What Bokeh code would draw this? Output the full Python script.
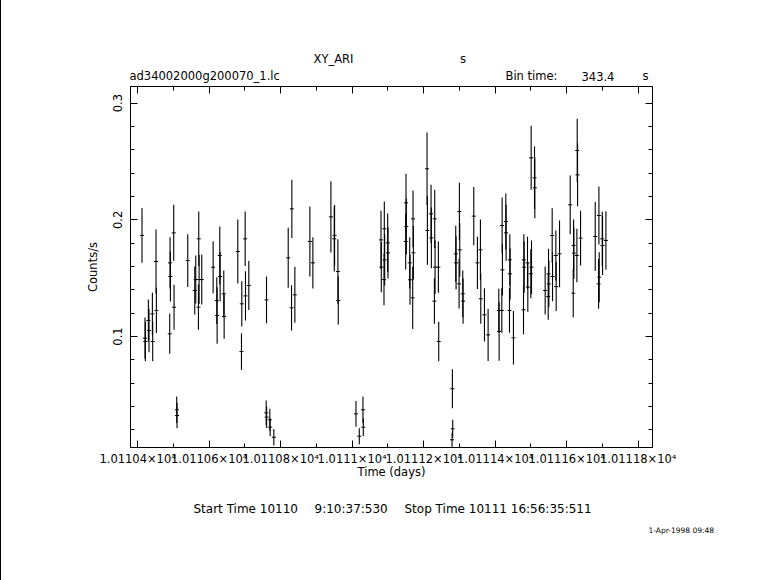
from bokeh.plotting import figure
from bokeh.models import LinearAxis, FixedTicker, ColumnDataSource, Range1d
from bokeh.layouts import column
from bokeh.core.properties import value
from bokeh.embed import file_html
from bokeh.resources import INLINE

# ---------------- data ----------------
time_days = [
    10110.4122, 10110.4206, 10110.4216, 10110.4300, 10110.4318, 10110.4412, 10110.4421, 10110.4514,
    10110.4524, 10110.4897, 10110.4906, 10110.4916, 10110.5009, 10110.5018, 10110.5093, 10110.5102,
    10110.5401, 10110.5597, 10110.5625, 10110.5700, 10110.5709, 10110.5719, 10110.5793, 10110.6111,
    10110.6213, 10110.6223, 10110.6297, 10110.6307, 10110.6409, 10110.6419, 10110.6801, 10110.6904,
    10110.6913, 10110.7007, 10110.7016, 10110.7109, 10110.7595, 10110.7604, 10110.7608, 10110.7697,
    10110.7706, 10110.7809, 10110.8211, 10110.8304, 10110.8313, 10110.8397, 10110.8817, 10110.8901,
    10110.9405, 10110.9499, 10110.9508, 10110.9601, 10110.9611, 10111.0106, 10111.0199, 10111.0302,
    10111.0311, 10111.0806, 10111.0815, 10111.0890, 10111.0899, 10111.0909, 10111.0993, 10111.1002,
    10111.1497, 10111.1506, 10111.1515, 10111.1609, 10111.1618, 10111.1693, 10111.1702, 10111.1712,
    10111.2094, 10111.2104, 10111.2206, 10111.2215, 10111.2300, 10111.2309, 10111.2318, 10111.2411,
    10111.2421, 10111.2794, 10111.2803, 10111.2812, 10111.2897, 10111.2906, 10111.2990, 10111.2999,
    10111.3009, 10111.3093, 10111.3102, 10111.3401, 10111.3503, 10111.3587, 10111.3597, 10111.3700,
    10111.3802, 10111.4101, 10111.4110, 10111.4185, 10111.4194, 10111.4203, 10111.4297, 10111.4306,
    10111.4400, 10111.4409, 10111.4418, 10111.4511, 10111.4792, 10111.4801, 10111.4810, 10111.4904,
    10111.4913, 10111.4997, 10111.5006, 10111.5016, 10111.5100, 10111.5109, 10111.5398, 10111.5483,
    10111.5492, 10111.5501, 10111.5594, 10111.5604, 10111.5697, 10111.5706, 10111.5800, 10111.6098,
    10111.6183, 10111.6192, 10111.6201, 10111.6285, 10111.6294, 10111.6304, 10111.6388, 10111.6798,
    10111.6892, 10111.6901, 10111.6910, 10111.6994, 10111.7003, 10111.7097,
]
rate = [
    0.1866, 0.0986, 0.0957, 0.1137, 0.1051, 0.1194, 0.0957, 0.1643,
    0.1223, 0.1023, 0.1631, 0.1514, 0.1888, 0.1251, 0.0372, 0.0323,
    0.1651, 0.1394, 0.1488, 0.1251, 0.1837, 0.1488, 0.1488, 0.1594,
    0.1308, 0.1180, 0.1694, 0.1514, 0.1366, 0.1171, 0.1728, 0.0871,
    0.1280, 0.1837, 0.1348, 0.1437, 0.0346, 0.1314, 0.0309, 0.0286,
    0.0223, 0.0137, 0.1674, 0.1246, 0.2094, 0.1357, 0.1814, 0.1631,
    0.2025, 0.1837, 0.1866, 0.1557, 0.1308, 0.0337, 0.0146, 0.0372,
    0.0223, 0.1828, 0.1594, 0.1488, 0.1923, 0.1657, 0.1803, 0.1717,
    0.1814, 0.2145, 0.1943, 0.1631, 0.1486, 0.1331, 0.2008, 0.1717,
    0.2437, 0.1908, 0.2051, 0.1845, 0.1303, 0.2008, 0.1594, 0.1594,
    0.0957, 0.0115, 0.0552, 0.0209, 0.1708, 0.1631, 0.1451, 0.2071,
    0.1743, 0.1366, 0.1303, 0.2031, 0.1631, 0.1743, 0.1323, 0.1186,
    0.1014, 0.1223, 0.1043, 0.1223, 0.1951, 0.1571, 0.1985, 0.1888,
    0.1223, 0.1657, 0.1537, 0.0989, 0.1229, 0.1657, 0.1594, 0.1631,
    0.1423, 0.1537, 0.2531, 0.1594, 0.2360, 0.2274, 0.1394, 0.1343,
    0.1537, 0.1451, 0.1865, 0.1514, 0.1694, 0.1428, 0.1708, 0.2128,
    0.1371, 0.1780, 0.1714, 0.1694, 0.2594, 0.2385, 0.1843, 0.1857,
    0.1451, 0.2037, 0.1508, 0.1837, 0.1780, 0.1823,
]
rate_err = [
    0.0234, 0.0177, 0.0170, 0.0180, 0.0186, 0.0180, 0.0169, 0.0274,
    0.0194, 0.0171, 0.0220, 0.0214, 0.0240, 0.0193, 0.0114, 0.0110,
    0.0226, 0.0206, 0.0206, 0.0194, 0.0234, 0.0210, 0.0214, 0.0223,
    0.0200, 0.0243, 0.0248, 0.0211, 0.0200, 0.0191, 0.0274, 0.0157,
    0.0194, 0.0234, 0.0211, 0.0209, 0.0106, 0.0200, 0.0092, 0.0094,
    0.0077, 0.0071, 0.0257, 0.0194, 0.0249, 0.0240, 0.0300, 0.0220,
    0.0306, 0.0280, 0.0260, 0.0277, 0.0206, 0.0110, 0.0069, 0.0114,
    0.0077, 0.0250, 0.0215, 0.0220, 0.0234, 0.0220, 0.0250, 0.0220,
    0.0240, 0.0250, 0.0240, 0.0220, 0.0215, 0.0266, 0.0243, 0.0230,
    0.0310, 0.0294, 0.0250, 0.0260, 0.0194, 0.0250, 0.0230, 0.0220,
    0.0170, 0.0060, 0.0167, 0.0077, 0.0240, 0.0228, 0.0210, 0.0246,
    0.0230, 0.0200, 0.0194, 0.0249, 0.0223, 0.0260, 0.0214, 0.0228,
    0.0223, 0.0186, 0.0250, 0.0190, 0.0240, 0.0220, 0.0240, 0.0240,
    0.0190, 0.0220, 0.0220, 0.0229, 0.0210, 0.0220, 0.0220, 0.0223,
    0.0210, 0.0210, 0.0274, 0.0229, 0.0268, 0.0260, 0.0206, 0.0200,
    0.0214, 0.0200, 0.0234, 0.0211, 0.0214, 0.0210, 0.0286, 0.0251,
    0.0206, 0.0223, 0.0220, 0.0229, 0.0271, 0.0269, 0.0234, 0.0296,
    0.0214, 0.0249, 0.0214, 0.0234, 0.0254, 0.0251,
]

x_major_ticks = [10110.4, 10110.6, 10110.8, 10111.0, 10111.2, 10111.4, 10111.6, 10111.8]
x_major_labels = ["1.01104×10⁴", "1.01106×10⁴", "1.01108×10⁴", "1.0111×10⁴",
                  "1.01112×10⁴", "1.01114×10⁴", "1.01116×10⁴", "1.01118×10⁴"]
x_minor_ticks = [10110.4, 10110.5, 10110.6, 10110.7, 10110.8, 10110.9, 10111.0, 10111.1,
                 10111.2, 10111.3, 10111.4, 10111.5, 10111.6, 10111.7, 10111.8]
y_major_ticks = [0.1, 0.2, 0.3]
y_major_labels = ["0.1", "0.2", "0.3"]
y_minor_ticks = [0.02, 0.04, 0.06, 0.08, 0.10, 0.12, 0.14, 0.16, 0.18, 0.20,
                 0.22, 0.24, 0.26, 0.28, 0.30]
x_limits = (10110.38, 10111.84)
y_limits = (0.0049, 0.3142)

header_texts = ["XY_ARI", "s", "ad34002000g200070_1.lc", "Bin time:", "343.4", "s"]
footer_texts = ["Start Time 10110", "9:10:37:530", "Stop Time 10111 16:56:35:511", "1-Apr-1998 09:48"]

FONT = "DejaVu Sans"
X0 = 1                                # canvases start 1px right of the page's left edge rule
W = 765
FRAME_L, FRAME_R = 130 - X0, 652 - X0  # frame edges in canvas px
TOP_H, MAIN_H, BOT_H = 84, 405, 91
BORDER_L, BORDER_R = FRAME_L, W - FRAME_R


def text_strip(h):
    # frame shares the main plot's horizontal extent; x data units == page px
    f = figure(width=W, height=h, output_backend="svg", toolbar_location=None,
               x_range=Range1d(FRAME_L + X0, FRAME_R + X0), y_range=Range1d(h, 0),
               x_axis_location=None, y_axis_location=None,
               min_border_left=BORDER_L, min_border_right=BORDER_R,
               min_border_top=0, min_border_bottom=0)
    f.outline_line_color = None
    f.xgrid.visible = False
    f.ygrid.visible = False
    f.background_fill_color = "white"
    f.border_fill_color = "white"
    return f


# ---------------- header strip ----------------
top = text_strip(TOP_H)
hsrc = ColumnDataSource(dict(
    x=[333, 462.5, 129, 505, 581, 645],
    y=[58, 58, 75.5, 75.5, 75.5, 75.5],
    text=header_texts,
    align=["center", "center", "left", "left", "left", "center"],
))
hr = top.text(x="x", y="y", text="text", source=hsrc, text_align="align", text_baseline="middle",
              text_font=value(FONT), text_font_size="11.5px", text_color="black")
hr.level = "overlay"

# ---------------- main light-curve plot ----------------
lo = [r - e for r, e in zip(rate, rate_err)]
hi = [r + e for r, e in zip(rate, rate_err)]
src = ColumnDataSource(dict(t=time_days, r=rate, lo=lo, hi=hi))

p = figure(width=W, height=MAIN_H, output_backend="svg", toolbar_location=None,
           x_range=Range1d(*x_limits), y_range=Range1d(*y_limits),
           min_border_left=BORDER_L, min_border_right=BORDER_R, min_border_top=2, min_border_bottom=42)
p.background_fill_color = "white"
p.border_fill_color = "white"
p.outline_line_color = "black"
p.outline_line_width = 1
p.xgrid.visible = False
p.ygrid.visible = False

p.segment(x0="t", y0="lo", x1="t", y1="hi", source=src, line_color="black", line_width=1.1)
p.scatter(x="t", y="r", source=src, marker="dash", size=4, line_color="black", line_width=1)


def style_axis(ax, ticks, minors, overrides, show_labels):
    ax.ticker = FixedTicker(ticks=ticks, minor_ticks=minors)
    ax.major_label_overrides = overrides
    ax.major_tick_in = 7
    ax.major_tick_out = 0
    ax.minor_tick_in = 4
    ax.minor_tick_out = 0
    ax.axis_line_color = "black"
    ax.major_tick_line_color = "black"
    ax.minor_tick_line_color = "black"
    ax.major_label_text_font = FONT
    ax.major_label_text_color = "black" if show_labels else None
    ax.axis_label_text_font = FONT
    ax.axis_label_text_font_style = "normal"
    ax.axis_label_text_color = "black"


x_over = {v: s for v, s in zip(x_major_ticks, x_major_labels)}
y_over = {v: s for v, s in zip(y_major_ticks, y_major_labels)}

xa = p.xaxis[0]
style_axis(xa, x_major_ticks, x_minor_ticks, x_over, True)
xa.axis_label = "Time (days)"
xa.major_label_text_font_size = "11.5px"
xa.axis_label_text_font_size = "11.5px"
xa.major_label_standoff = 4
xa.axis_label_standoff = -4

ya = p.yaxis[0]
style_axis(ya, y_major_ticks, y_minor_ticks, y_over, True)
ya.axis_label = "Counts/s"
ya.major_label_orientation = "vertical"
ya.major_label_text_font_size = "11.5px"
ya.axis_label_text_font_size = "11.5px"
ya.major_label_standoff = 8
ya.axis_label_standoff = 11

top_axis = LinearAxis()
style_axis(top_axis, x_major_ticks, x_minor_ticks, {}, False)
top_axis.major_label_text_font_size = "1px"
top_axis.major_label_standoff = 0
p.add_layout(top_axis, "above")
right_axis = LinearAxis()
style_axis(right_axis, y_major_ticks, y_minor_ticks, {}, False)
right_axis.major_label_text_font_size = "1px"
right_axis.major_label_standoff = 0
p.add_layout(right_axis, "right")

# ---------------- footer strip ----------------
bot = text_strip(BOT_H)
fsrc = ColumnDataSource(dict(
    x=[193, 314, 404, 648],
    y=[19, 19, 19, 40.5],
    text=footer_texts,
    size=["12px", "12px", "12px", "7.5px"],
))
fr = bot.text(x="x", y="y", text="text", source=fsrc, text_align="left", text_baseline="middle",
              text_font=value(FONT), text_font_size="size", text_color="black")
fr.level = "overlay"

layout = column(top, p, bot, spacing=0, styles={"border-left": "1px solid black"})
open("out.html", "w").write(file_html(layout, INLINE))
